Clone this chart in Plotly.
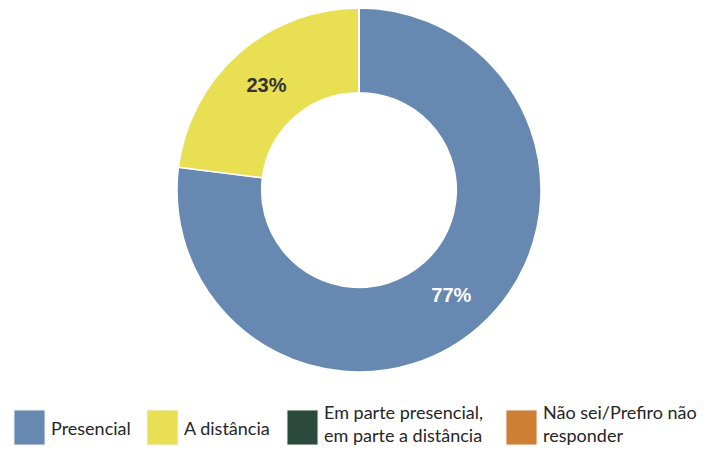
import plotly.graph_objects as go

categorias = ["Presencial", "A distância", "Em parte presencial,<br>em parte a distância", "Não sei/Prefiro não<br>responder"]
valores = [77, 23, 0, 0]
cores = ["#6688b1", "#e8df52", "#2a4a3d", "#cd7f33"]

# a página tem 8px de margem no body: a figura ocupa o resto da janela 714x454
OFF = 8
W, H = 714 - 2 * OFF, 454 - 2 * OFF


def px_x(x):
    return (x - OFF) / W


def px_y(y):
    return (H - (y - OFF)) / H


textos = [f"<b>{v}%</b>" if v else "" for v in valores]

fig = go.Figure()
fig.add_trace(go.Pie(
    labels=categorias,
    values=valores,
    text=textos,
    textinfo="text",
    sort=False,
    direction="clockwise",
    rotation=0,
    hole=0.535,
    marker=dict(colors=cores, line=dict(color="white", width=1.5)),
    insidetextorientation="horizontal",
    insidetextfont=dict(family="Liberation Sans", size=20, color=["white", "#333333", "white", "white"]),
    domain=dict(x=[px_x(359 - 182), px_x(359 + 182)], y=[px_y(372), 1]),
    showlegend=False,
    hoverinfo="label+percent",
))

# legenda desenhada à mão (quadrados grandes como no original)
caixas_x = [14, 147, 287, 506]
shapes = []
annotations = []
for cat, cor, x0 in zip(categorias, cores, caixas_x):
    shapes.append(dict(type="rect", xref="paper", yref="paper",
                       x0=px_x(x0), x1=px_x(x0 + 31), y0=px_y(445), y1=px_y(410),
                       fillcolor=cor, line=dict(color="#f0f0f0", width=1)))
    duas_linhas = "<br>" in cat
    annotations.append(dict(text=cat, xref="paper", yref="paper", x=px_x(x0 + 36),
                            y=px_y(423 if duas_linhas else 428),
                            xanchor="left", yanchor="middle", showarrow=False, align="left",
                            borderpad=0,
                            font=dict(family="Lato", size=18, color="#262626")))

fig.update_layout(
    width=W, height=H,
    margin=dict(l=0, r=0, t=0, b=0),
    paper_bgcolor="white",
    plot_bgcolor="white",
    shapes=shapes,
    annotations=annotations,
)

fig.write_html("out.html")
